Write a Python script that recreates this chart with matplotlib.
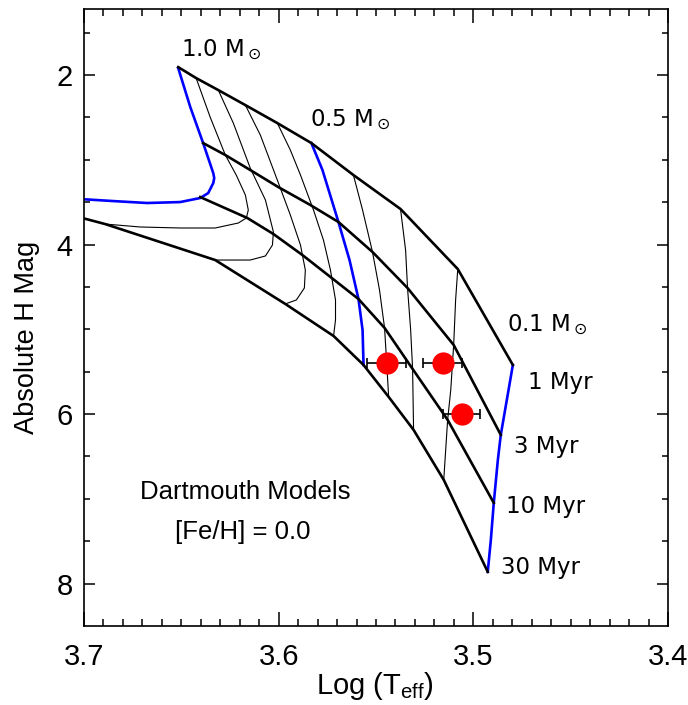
import matplotlib
matplotlib.use('Agg')
import matplotlib.pyplot as plt

# isochrones: log Teff / H mag at masses 1.0, 0.9, ... 0.1 Msun
iso_1myr_teff = [3.6516, 3.6424, 3.6310, 3.6171, 3.6007, 3.5832, 3.5616, 3.5374, 3.5080, 3.4797]
iso_1myr_h = [1.906, 2.035, 2.177, 2.354, 2.566, 2.802, 3.179, 3.580, 4.288, 5.420]
iso_3myr_teff = [3.6388, 3.6274, 3.6146, 3.6002, 3.5837, 3.5693, 3.5518, 3.5338, 3.5101, 3.4859]
iso_3myr_h = [2.802, 2.943, 3.120, 3.321, 3.533, 3.733, 4.087, 4.512, 5.184, 6.245]
iso_10myr_teff = [3.6403, 3.6161, 3.6027, 3.5878, 3.5734, 3.5590, 3.5456, 3.5312, 3.5132, 3.4895]
iso_10myr_h = [3.439, 3.686, 3.875, 4.123, 4.382, 4.642, 4.983, 5.467, 6.068, 7.047]
iso_30myr_teff = [3.7124, 3.6892, 3.6326, 3.5966, 3.5718, 3.5564, 3.5435, 3.5307, 3.5152, 3.4926]
iso_30myr_h = [3.616, 3.757, 4.182, 4.700, 5.078, 5.420, 5.797, 6.186, 6.776, 7.861]

# highlighted mass tracks (blue)
trk_10_teff = [3.6516, 3.6454, 3.6388, 3.6336, 3.6331, 3.6336, 3.6362, 3.6403, 3.6506, 3.6676, 3.6851, 3.7021, 3.7124]
trk_10_h = [1.917, 2.377, 2.802, 3.156, 3.215, 3.274, 3.392, 3.450, 3.498, 3.509, 3.486, 3.462, 3.450]
trk_05_teff = [3.5832, 3.5775, 3.5693, 3.5636, 3.5590, 3.5569, 3.5564]
trk_05_h = [2.802, 3.120, 3.733, 4.182, 4.642, 5.007, 5.420]
trk_01_teff = [3.4797, 3.4828, 3.4859, 3.4874, 3.4895, 3.4910, 3.4926]
trk_01_h = [5.420, 5.833, 6.245, 6.540, 7.047, 7.483, 7.861]

# intermediate mass tracks: 0.9, 0.8, 0.7, 0.6, 0.4, 0.3, 0.2 Msun
thin_teff = [
    [3.6424, 3.6352, 3.6274, 3.6218, 3.6171, 3.6156, 3.6166, 3.6207, 3.6326, 3.6506, 3.6712, 3.6892],
    [3.6310, 3.6233, 3.6146, 3.6068, 3.6027, 3.6032, 3.6068, 3.6146, 3.6326],
    [3.6171, 3.6094, 3.6007, 3.5940, 3.5888, 3.5863, 3.5868, 3.5909, 3.5966],
    [3.6007, 3.5940, 3.5888, 3.5821, 3.5770, 3.5734, 3.5708, 3.5708, 3.5718],
    [3.5616, 3.5569, 3.5518, 3.5482, 3.5456, 3.5446, 3.5435],
    [3.5374, 3.5348, 3.5338, 3.5322, 3.5312, 3.5307],
    [3.5080, 3.5091, 3.5101, 3.5116, 3.5132, 3.5152],
]
thin_h = [
    [2.035, 2.495, 2.943, 3.179, 3.415, 3.592, 3.686, 3.745, 3.804, 3.804, 3.792, 3.757],
    [2.177, 2.566, 3.097, 3.474, 3.851, 4.005, 4.134, 4.182, 4.182],
    [2.354, 2.708, 3.238, 3.651, 4.005, 4.300, 4.512, 4.653, 4.700],
    [2.566, 2.884, 3.179, 3.592, 3.946, 4.300, 4.653, 4.889, 5.078],
    [3.179, 3.592, 4.087, 4.535, 4.983, 5.361, 5.797],
    [3.580, 4.064, 4.512, 5.007, 5.467, 6.186],
    [4.288, 4.653, 5.184, 5.715, 6.068, 6.776],
]

# observed stars
obs_teff = [3.5446, 3.5158, 3.5060]
obs_h = [5.40, 5.40, 6.00]
obs_err = [0.0098, 0.0098, 0.0095]

sans = ['Liberation Sans', 'DejaVu Sans']

fig = plt.figure(figsize=(6.88, 7.05), dpi=100)
ax = fig.add_axes([84/688, 1-626/705, 584/688, 617/705])

for t, h in zip(thin_teff, thin_h):
    ax.plot(t, h, color='black', lw=0.8)

for t, h in [(trk_10_teff, trk_10_h), (trk_05_teff, trk_05_h), (trk_01_teff, trk_01_h)]:
    ax.plot(t, h, color='#0000ff', lw=1.9)

for t, h in [(iso_1myr_teff, iso_1myr_h), (iso_3myr_teff, iso_3myr_h),
             (iso_10myr_teff, iso_10myr_h), (iso_30myr_teff, iso_30myr_h)]:
    ax.plot(t, h, color='black', lw=1.9, solid_joinstyle='round')

ax.errorbar(obs_teff, obs_h, xerr=obs_err, fmt='none', ecolor='black',
            elinewidth=1.2, capsize=3.5, capthick=1.2, zorder=5)
ax.plot(obs_teff, obs_h, 'o', color='red', markersize=16, markeredgewidth=0, zorder=6)

# labels on the grid
lab_kw = dict(fontsize=16.5, family='DejaVu Sans', va='center', ha='left')
ax.text(3.6501, 1.705, r'1.0 M$_\odot$', **lab_kw)
ax.text(3.5837, 2.531, r'0.5 M$_\odot$', **lab_kw)
ax.text(3.4828, 4.948, r'0.1 M$_\odot$', **lab_kw)
ax.text(3.4720, 5.632, '1 Myr', **lab_kw)
ax.text(3.4792, 6.387, '3 Myr', **lab_kw)
ax.text(3.4833, 7.094, '10 Myr', **lab_kw)
ax.text(3.4859, 7.814, '30 Myr', **lab_kw)

ax.text(3.6171, 6.917, 'Dartmouth Models', fontsize=18.5, family=sans, ha='center', va='center')
ax.text(3.6182, 7.389, '[Fe/H] = 0.0', fontsize=18.5, family=sans, ha='center', va='center')

ax.set_xlim(3.7, 3.4)
ax.set_ylim(8.5, 1.22)
ax.set_xticks([3.7, 3.6, 3.5, 3.4])
ax.set_xticklabels(['3.7', '3.6', '3.5', '3.4'])
ax.set_xticks([3.7 - 0.01*i for i in range(31)], minor=True)
ax.set_yticks([2, 4, 6, 8])
ax.set_yticklabels(['2', '4', '6', '8'])
ax.set_yticks([1.5 + 0.5*i for i in range(14)], minor=True)

ax.tick_params(axis='both', which='both', direction='in', top=True, right=True,
               width=1.1, colors='black')
ax.tick_params(axis='x', which='major', length=10, pad=12)
ax.tick_params(axis='x', which='minor', length=5)
ax.tick_params(axis='y', which='major', length=8, pad=8)
ax.tick_params(axis='y', which='minor', length=4.3)
for lab in ax.get_xticklabels() + ax.get_yticklabels():
    lab.set_fontfamily(sans)
    lab.set_fontsize(21)
for sp in ax.spines.values():
    sp.set_linewidth(1.2)

ax.set_xlabel(r'Log (T$_\mathregular{eff}$)', fontsize=21, family=sans)
ax.set_ylabel('Absolute H Mag', fontsize=19.5, family=sans)
ax.xaxis.set_label_coords(0.498, -0.072)
ax.yaxis.set_label_coords(-0.076, 0.468)

fig.savefig('out.png', dpi=100)
